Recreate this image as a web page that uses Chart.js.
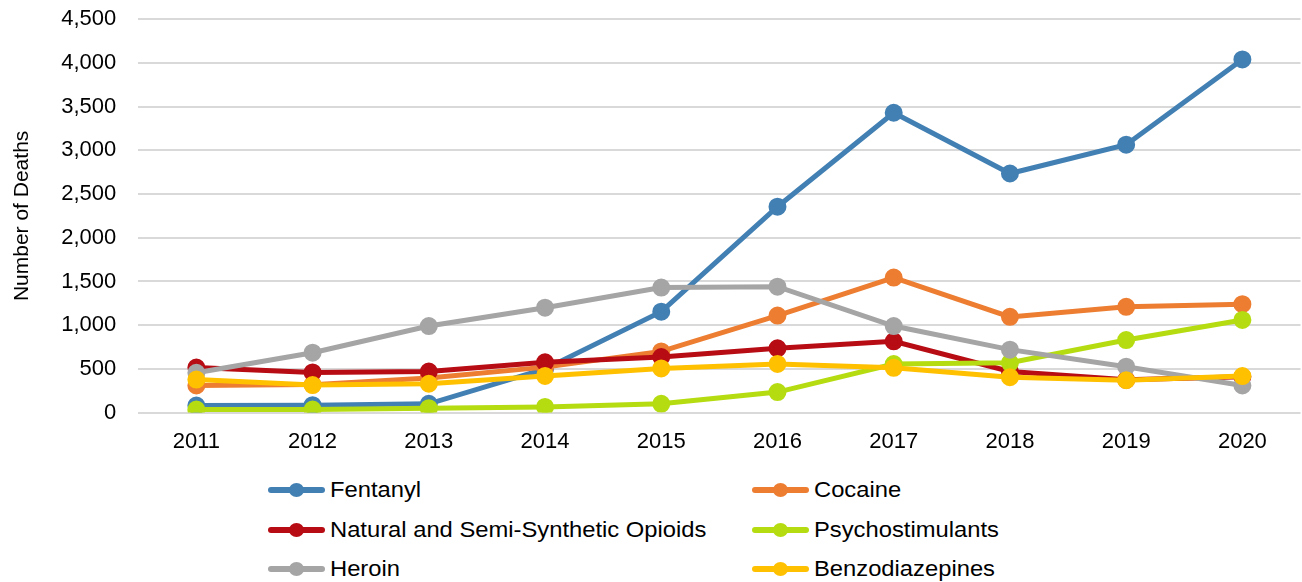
<!DOCTYPE html>
<html>
<head>
<meta charset="utf-8">
<script src="https://cdn.jsdelivr.net/npm/chart.js@4/dist/chart.umd.min.js"></script>
<style>
  body { margin: 0; background: #fff; font-family: "Liberation Sans", Arial, sans-serif; overflow: hidden; }
  #wrap { position: relative; width: 1302px; height: 582px; overflow: hidden; }
  #box { position: absolute; left: 0; top: -16px; width: 1312px; height: 479px; }
  #legend { position: absolute; left: 0; top: 470px; width: 1302px; height: 112px; }
  .item { position: absolute; display: flex; align-items: center; font-size: 22px; color: #000; white-space: nowrap; }
  .item .txt { display: inline-block; transform: scaleX(1.08); transform-origin: left center; }
  .mk { position: relative; width: 57px; height: 6px; border-radius: 3px; margin-right: 5px; }
  .mk span { position: absolute; left: 21px; top: -4px; width: 15px; height: 14px; border-radius: 50%; }
</style>
</head>
<body>
<div id="wrap">
  <div id="box"><canvas id="myChart"></canvas></div>
  <div id="legend"></div>
</div>
<script>
const years = ['2011', '2012', '2013', '2014', '2015', '2016', '2017', '2018', '2019', '2020'];

const fentanyl    = [80, 85, 100, 500, 1155, 2355, 3430, 2735, 3065, 4040];
const cocaine     = [310, 320, 395, 520, 700, 1110, 1545, 1095, 1210, 1240];
const natural     = [515, 460, 470, 575, 635, 735, 815, 470, 375, 410];
const psycho      = [35, 35, 50, 65, 100, 235, 555, 570, 830, 1060];
const heroin      = [455, 685, 990, 1200, 1430, 1440, 990, 720, 525, 310];
const benzo       = [378, 315, 330, 420, 505, 557, 512, 405, 370, 418];

const yTicks = { min: 0, max: 4500, step: 500 };

// legend order (row by row); later series sit on top
const series = [
  { label: 'Fentanyl', data: fentanyl, color: '#4280b4' },
  { label: 'Cocaine', data: cocaine, color: '#ed7d31' },
  { label: 'Natural and Semi-Synthetic Opioids', data: natural, color: '#b70c13' },
  { label: 'Psychostimulants', data: psycho, color: '#b5dc10' },
  { label: 'Heroin', data: heroin, color: '#a5a5a5' },
  { label: 'Benzodiazepines', data: benzo, color: '#ffc000' }
];

const datasets = series.map((s, i) => ({
  label: s.label,
  data: s.data,
  borderColor: s.color,
  backgroundColor: s.color,
  pointBackgroundColor: s.color,
  pointBorderColor: s.color,
  borderWidth: 5,
  pointRadius: 6.5,
  pointHoverRadius: 6.5,
  tension: 0,
  fill: false,
  order: series.length - i
}));

Chart.defaults.font.family = '"Liberation Sans", Arial, sans-serif';
Chart.defaults.color = '#000';

new Chart(document.getElementById('myChart'), {
  type: 'line',
  data: { labels: years, datasets: datasets },
  options: {
    responsive: true,
    maintainAspectRatio: false,
    animation: false,
    layout: { padding: { top: 9, right: 0, left: 6, bottom: 0 } },
    plugins: { legend: { display: false }, tooltip: { enabled: false } },
    scales: {
      x: {
        offset: true,
        grid: { display: false },
        border: { display: false },
        ticks: { font: { size: 22 }, padding: 8, maxRotation: 0 }
      },
      y: {
        min: yTicks.min,
        max: yTicks.max,
        border: { display: false },
        grid: { color: '#d9d9d9', lineWidth: 2, drawTicks: false },
        ticks: {
          stepSize: yTicks.step,
          font: { size: 22 },
          padding: 22,
          callback: v => v.toLocaleString('en-US')
        },
        title: { display: true, text: 'Number of Deaths', font: { size: 21 }, padding: { bottom: 4 } }
      }
    }
  }
});

// two column legend like the original
const legend = document.getElementById('legend');
const cols = [268, 752];
const rows = [20, 60, 99];
series.forEach((s, i) => {
  const item = document.createElement('div');
  item.className = 'item';
  item.style.left = cols[i % 2] + 'px';
  item.style.top = (rows[Math.floor(i / 2)] - 13) + 'px';
  item.innerHTML = '<div class="mk" style="background:' + s.color + '"><span style="background:' + s.color + '"></span></div><span class="txt">' + s.label + '</span>';
  legend.appendChild(item);
});
</script>
</body>
</html>
